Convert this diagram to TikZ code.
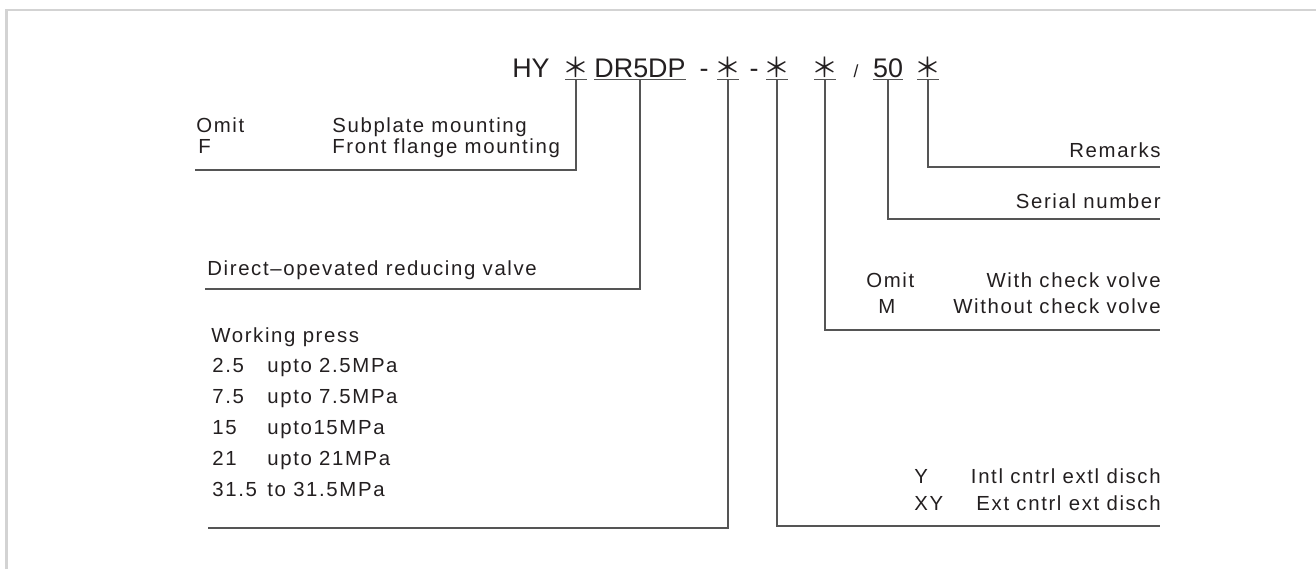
\documentclass[tikz,border=0pt]{standalone}
\usepackage{fontspec}
\setmainfont{Liberation Sans}
\newfontfamily\bodyfont{Liberation Sans}[LetterSpace=8]
\newfontfamily\codefont{Liberation Sans}
\newfontfamily\cjk{Noto Sans CJK SC}
\definecolor{ink}{HTML}{231F20}
\definecolor{leadgray}{HTML}{555555}
\definecolor{framegray}{HTML}{D3D3D3}
\newcommand{\stargl}{\makebox[0pt]{\cjk ＊}}

\begin{document}
\begin{tikzpicture}[
    x=0.02cm, y=-0.02cm, % 1 unit = 1 px of the drawing
    every node/.style={inner sep=0pt, text=ink},
    txt/.style={font=\bodyfont\fontsize{11.6}{14}\selectfont},
    lft/.style={txt, anchor=base west},
    rgt/.style={txt, anchor=base east},
    code/.style={font=\codefont\fontsize{15.3}{18}\selectfont, anchor=base, inner ysep=1.13pt},
    star/.style={code, font=\fontsize{15.3}{18}\selectfont, minimum width=11.9pt},
    lead/.style={leadgray, line width=0.7pt}
]
\useasboundingbox (0,0) rectangle (1316,569);

% ========== frame ==========
\draw[framegray, line width=1.4pt] (6.5,569) -- (6.5,10) -- (1316,10);

% ========== model code ==========
\node[code, anchor=base east] (hy) at (550,77) {HY};
\node[star] (s1) at (576,77) {\stargl};
\node[code] (dr) at (640,77) {DR5DP};
\node[code] (d1) at (704,77) {-};
\node[star] (s2) at (728,77) {\stargl};
\node[code] (d2) at (754,77) {-};
\node[star] (s3) at (777,77) {\stargl};
\node[star] (s4) at (825,77) {\stargl};
\node[code, font=\codefont\fontsize{10}{12}\selectfont] (sl) at (856,77) {/};
\node[code] (fifty) at (888,77) {50};
\node[star] (s5) at (928,77) {\stargl};

% underlines
\foreach \n in {s1,dr,s2,s3,s4,fifty,s5}
    \draw[lead] (\n.south west) -- (\n.south east);

% ========== leader ends ==========
\coordinate (mnt) at (195,170);
\coordinate (dov) at (205,289);
\coordinate (prs) at (208,528);
\coordinate (ctl) at (1160,526);
\coordinate (chk) at (1160,330);
\coordinate (ser) at (1160,219);
\coordinate (rem) at (1160,167);

\draw[lead] (s1.south) |- (mnt);
\draw[lead] (dr.south) |- (dov);
\draw[lead] (s2.south) |- (prs);
\draw[lead] (s3.south) |- (ctl);
\draw[lead] (s4.south) |- (chk);
\draw[lead] (fifty.south) |- (ser);
\draw[lead] (s5.south) |- (rem);

% ========== left side ==========
\node[lft] (omit1) at (196,132) {Omit};
\node[lft] (sub) at (332,132) {Subplate mounting};
\node[lft] (fl) at (198,153) {F};
\node[lft] (flange) at (332,153) {Front flange mounting};

\node[lft] (dir) at (207,275) {Direct–opevated reducing valve};

\node[lft] (wp) at (211,342) {Working press};
\foreach \a/\b [count=\i] in {2.5/upto 2.5MPa, 7.5/upto 7.5MPa, 15/upto15MPa, 21/upto 21MPa, 31.5/to 31.5MPa} {
    \node[lft] (pa\i) at (212,341+31*\i) {\a};
    \node[lft] (pb\i) at (267,341+31*\i) {\b};
}

% ========== right side ==========
\node[rgt] (remk) at (1161,157) {Remarks};
\node[rgt] (serl) at (1161,208) {Serial number};
\node[lft] (omit2) at (866,287) {Omit};
\node[rgt] (with) at (1161,287) {With check volve};
\node[lft] (mm) at (878,313) {M};
\node[rgt] (wout) at (1161,313) {Without check volve};
\node[lft] (yy) at (914,483) {Y};
\node[rgt] (intl) at (1161,483) {Intl cntrl extl disch};
\node[lft] (xy) at (914,510) {XY};
\node[rgt] (ext) at (1161,510) {Ext cntrl ext disch};

\end{tikzpicture}
\end{document}
